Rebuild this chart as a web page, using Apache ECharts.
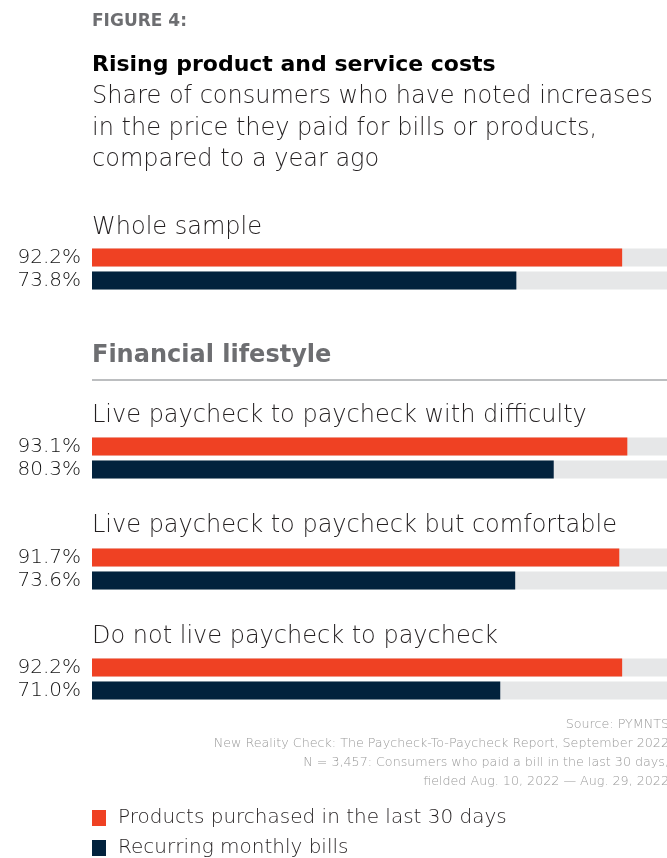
<!DOCTYPE html>
<html>
<head>
<meta charset="utf-8">
<script src="https://cdn.jsdelivr.net/npm/echarts@6/dist/echarts.min.js"></script>
<style>
html,body{margin:0;padding:0;background:#fff;}
#chart{width:667px;height:858px;}
</style>
</head>
<body>
<div id="chart"></div>
<script>
const groups = ['Whole sample', 'Live paycheck to paycheck with difficulty', 'Live paycheck to paycheck but comfortable', 'Do not live paycheck to paycheck'];
const products = [92.2, 93.1, 91.7, 92.2];
const bills = [73.8, 80.3, 73.6, 71.0];
const seriesNames = ['Products purchased in the last 30 days', 'Recurring monthly bills'];
const sourceLines = [
  'Source: PYMNTS',
  'New Reality Check: The Paycheck-To-Paycheck Report, September 2022',
  'N = 3,457: Consumers who paid a bill in the last 30 days,',
  'fielded Aug. 10, 2022 \u2014 Aug. 29, 2022'
];

const ORANGE = '#ef4123';
const NAVY = '#02223d';
const TRACK = '#e6e7e8';
const LF = '"DejaVu Sans", sans-serif';
const BF = '"DejaVu Sans", sans-serif';

const gridTops = [246, 435, 546, 656];
const labelYs = [228, 416, 526, 637];

const grids = [], xAxes = [], yAxes = [], series = [];
groups.forEach((g, i) => {
  grids.push({left: 92, top: gridTops[i], width: 580, height: 46});
  xAxes.push({gridIndex: i, type: 'value', min: 0, max: 100, show: false});
  yAxes.push({gridIndex: i, type: 'category', data: seriesNames, inverse: true, show: false});
  series.push({
    type: 'bar', xAxisIndex: i, yAxisIndex: i, barWidth: 18,
    showBackground: true, backgroundStyle: {color: TRACK},
    data: [
      {value: products[i], itemStyle: {color: ORANGE}},
      {value: bills[i], itemStyle: {color: NAVY}}
    ],
    label: {show: true, position: 'left', distance: 11, formatter: p => p.value.toFixed(1) + '%',
      fontFamily: 'DejaVu Sans', fontWeight: 300, fontSize: 20, color: '#111'},
    silent: true
  });
});

const graphics = [
  {type: 'text', style: {text: 'FIGURE 4:', x: 92, y: 22, textVerticalAlign: 'middle', font: 'bold 17px ' + BF, fill: '#6d6e71'}},
  {type: 'text', style: {text: 'Rising product and service costs', x: 92, y: 65, textVerticalAlign: 'middle', font: 'bold 22px ' + BF, fill: '#000'}},
  {type: 'text', style: {text: 'Share of consumers who have noted increases', x: 92, y: 97, textVerticalAlign: 'middle', font: '300 24px ' + LF, fill: '#231f20'}},
  {type: 'text', style: {text: 'in the price they paid for bills or products,', x: 92, y: 129, textVerticalAlign: 'middle', font: '300 24px ' + LF, fill: '#231f20'}},
  {type: 'text', style: {text: 'compared to a year ago', x: 92, y: 160, textVerticalAlign: 'middle', font: '300 24px ' + LF, fill: '#231f20'}},
  {type: 'text', style: {text: 'Financial lifestyle', x: 92, y: 356, textVerticalAlign: 'middle', font: 'bold 24px ' + BF, fill: '#6d6e71'}},
  {type: 'rect', shape: {x: 92, y: 379, width: 580, height: 2}, style: {fill: '#bcbec0'}},
  {type: 'rect', shape: {x: 92, y: 810, width: 14, height: 16}, style: {fill: ORANGE}},
  {type: 'rect', shape: {x: 92, y: 840, width: 14, height: 16}, style: {fill: NAVY}},
  {type: 'text', style: {text: seriesNames[0], x: 118, y: 818, textVerticalAlign: 'middle', font: '300 20px ' + LF, fill: '#231f20'}},
  {type: 'text', style: {text: seriesNames[1], x: 118, y: 848, textVerticalAlign: 'middle', font: '300 20px ' + LF, fill: '#231f20'}}
];
groups.forEach((g, i) => {
  graphics.push({type: 'text', style: {text: g, x: 92, y: labelYs[i], textVerticalAlign: 'middle', font: '300 24px ' + LF, fill: '#231f20'}});
});
const srcYs = [725, 744, 763, 782];
sourceLines.forEach((t, i) => {
  graphics.push({type: 'text', style: {text: t, x: 669, y: srcYs[i], textAlign: 'right', textVerticalAlign: 'middle', font: '300 12.7px ' + LF, fill: '#9a9a9a'}});
});

const chart = echarts.init(document.getElementById('chart'), null, {renderer: 'canvas'});
chart.setOption({
  animation: false,
  grid: grids, xAxis: xAxes, yAxis: yAxes, series: series,
  graphic: graphics
});
</script>
</body>
</html>
